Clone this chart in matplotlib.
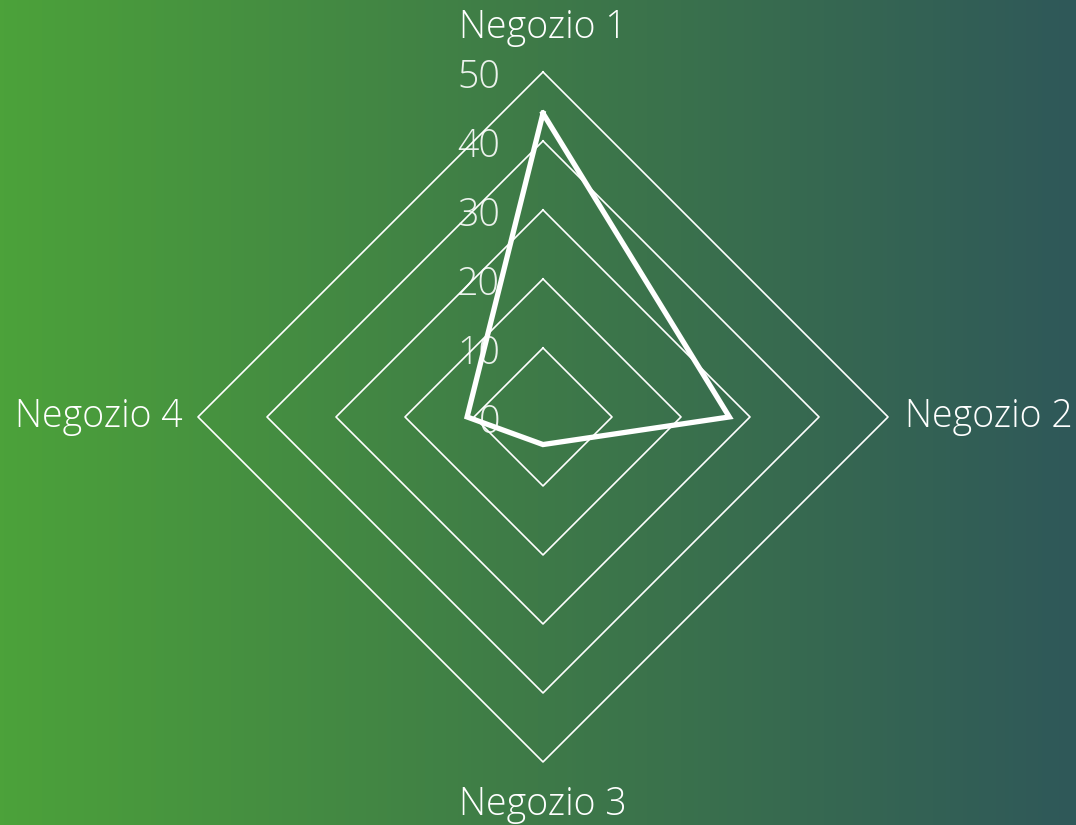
import numpy as np
import matplotlib.pyplot as plt
from matplotlib.colors import LinearSegmentedColormap
from matplotlib.transforms import offset_copy

plt.rcParams['font.family'] = ['Open Sans', 'DejaVu Sans']

# data
categories = ['Negozio 1', 'Negozio 2', 'Negozio 3', 'Negozio 4']
values = [44, 27, 4, 11]
rings = [10, 20, 30, 40, 50]
tick_labels = ['0', '10', '20', '30', '40', '50']

fig = plt.figure(figsize=(10.76, 8.25), dpi=100)

# gradient background
bg = fig.add_axes([0, 0, 1, 1], zorder=0)
cmap = LinearSegmentedColormap.from_list('bg', ['#4ca23a', '#3e7a48', '#2f5859'])
bg.imshow(np.linspace(0, 1, 256).reshape(1, -1), cmap=cmap, aspect='auto',
          extent=[0, 1, 0, 1])
bg.axis('off')

ax = fig.add_axes([0.184, 0.0764, 0.6413, 0.8364], projection='polar', zorder=1)
ax.patch.set_alpha(0)
ax.set_theta_offset(np.pi / 2)
ax.set_theta_direction(-1)
ax.set_ylim(0, 50)
ax.grid(False)
ax.spines['polar'].set_visible(False)
ax.set_xticks([])
ax.set_yticks([])

angles = np.arange(len(categories)) * 2 * np.pi / len(categories)
closed = np.append(angles, angles[0])

# diamond grid
for r in rings:
    ax.plot(closed, [r] * len(closed), color='white', lw=1.2, clip_on=False)

# series
vals = values + values[:1]
ax.plot(closed, vals, color='white', lw=3.8, solid_joinstyle='miter', clip_on=False)

# category labels
lab_pos = [(56.4, 'center', 'center'), (52.5, 'left', 'center'),
           (56.2, 'center', 'center'), (52.2, 'right', 'center')]
for a, name, (r, ha, va) in zip(angles, categories, lab_pos):
    ax.text(a, r, name, color='white', fontsize=27, fontweight='light',
            ha=ha, va=va, clip_on=False)

# radial tick labels
tr = offset_copy(ax.transData, fig=fig, x=-43, y=-6, units='dots')
for r, t in zip([0] + rings, tick_labels):
    ax.text(0, r, t, color='white', fontsize=27, fontweight='light', alpha=0.9,
            ha='right', va='center', transform=tr, clip_on=False)

fig.savefig('out.png', dpi=100)
